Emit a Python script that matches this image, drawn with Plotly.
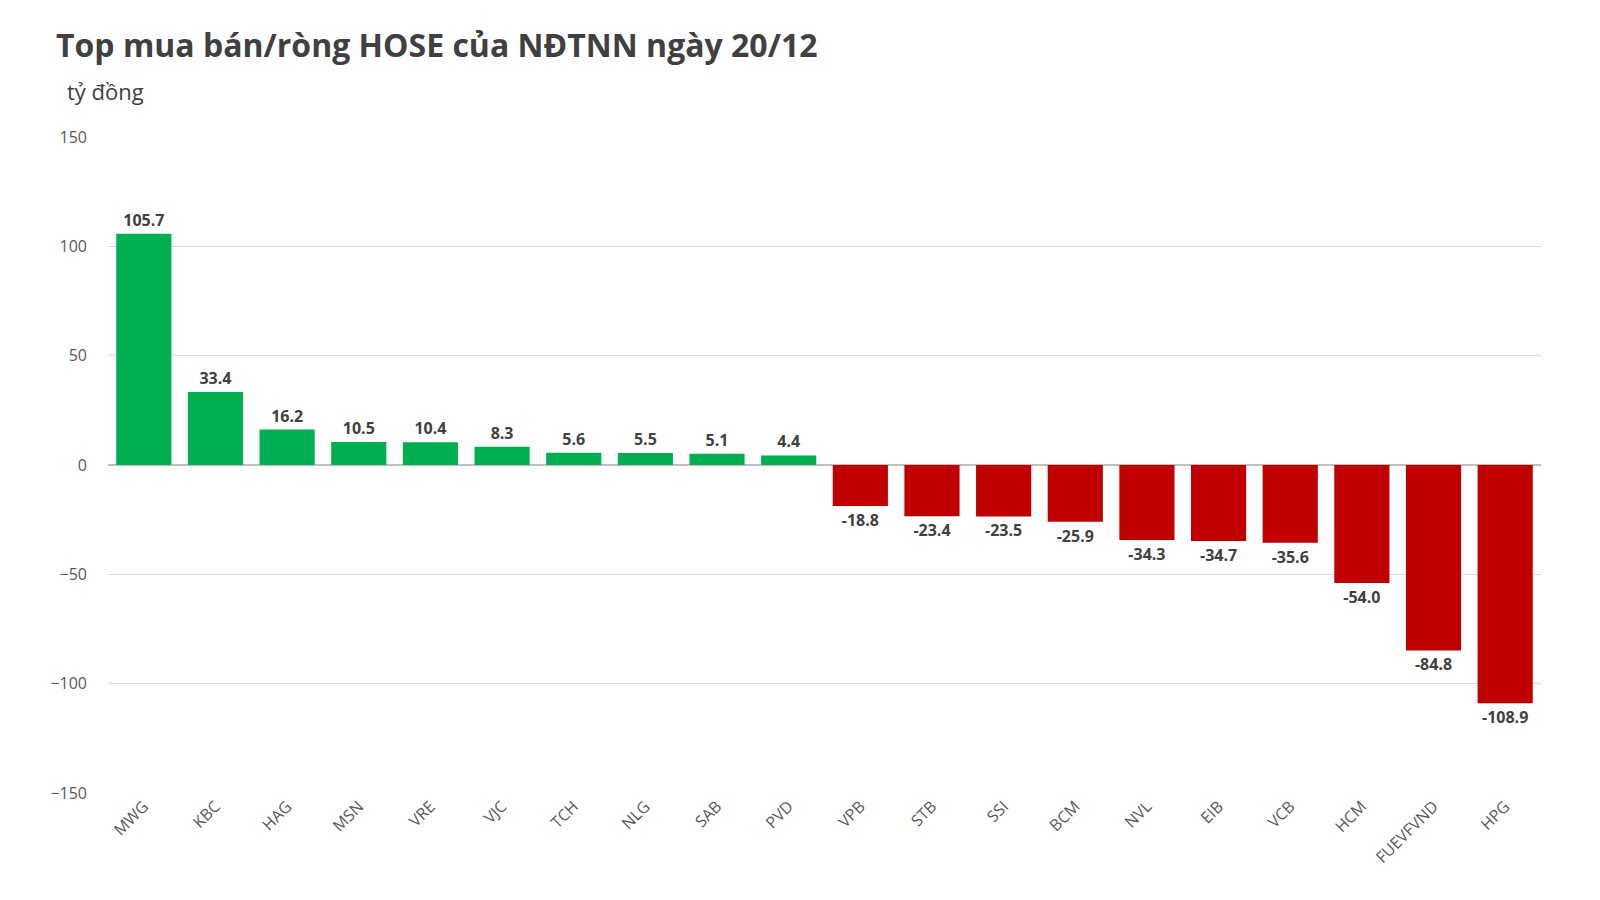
import plotly.graph_objects as go

tickers = ["MWG", "KBC", "HAG", "MSN", "VRE", "VJC", "TCH", "NLG", "SAB", "PVD",
           "VPB", "STB", "SSI", "BCM", "NVL", "EIB", "VCB", "HCM", "FUEVFVND", "HPG"]
values = [105.7, 33.4, 16.2, 10.5, 10.4, 8.3, 5.6, 5.5, 5.1, 4.4,
          -18.8, -23.4, -23.5, -25.9, -34.3, -34.7, -35.6, -54.0, -84.8, -108.9]
y_ticks = [-150, -100, -50, 0, 50, 100, 150]

colors = ["#00B050" if v >= 0 else "#C00000" for v in values]

fig = go.Figure(go.Bar(
    x=tickers, y=values,
    marker=dict(color=colors, line=dict(width=0)),
    text=[f"{v:.1f}" for v in values],
    textposition="outside",
    textfont=dict(family="Open Sans", size=16, color="#404040", weight="bold"),
    cliponaxis=False,
))

fig.update_layout(
    width=1600, height=900,
    margin=dict(l=100, r=67, t=129, b=115),
    plot_bgcolor="white", paper_bgcolor="white",
    bargap=0.23,
    showlegend=False,
    font=dict(family="Open Sans", color="#595959"),
    title=dict(text="<b>Top mua bán/ròng HOSE của NĐTNN ngày 20/12</b>",
               x=0.03, xanchor="left", y=0.958, yanchor="middle",
               font=dict(size=32, color="#404040")),
    annotations=[dict(text="tỷ đồng", xref="paper", yref="paper",
                      x=-0.03, y=1.07, xanchor="left", yanchor="middle",
                      showarrow=False, font=dict(size=22, color="#404040"))],
)
fig.update_yaxes(range=[-150, 150], tickvals=y_ticks, showgrid=True,
                 gridcolor="#D9D9D9", zeroline=True, zerolinecolor="#BFBFBF",
                 tickfont=dict(size=16, color="#595959"), ticklabelstandoff=20)
fig.update_xaxes(tickangle=-45, tickfont=dict(size=16, color="#595959"),
                 showline=False)

fig.write_html("out.html")
